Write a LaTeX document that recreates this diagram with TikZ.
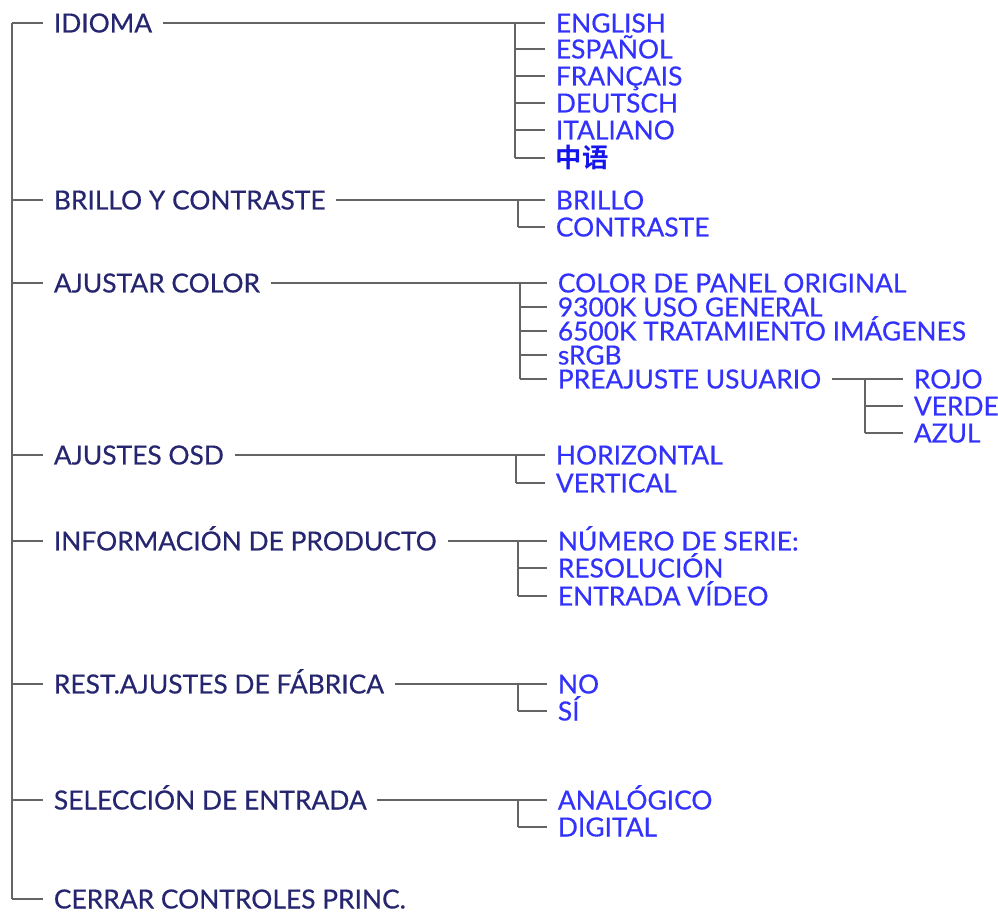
\documentclass[tikz,border=0pt]{standalone}
\usepackage{fontspec}
\setmainfont{Lato}
\newfontfamily\menufont{Lato}[FakeBold=0.5]
\newfontfamily\cjkfont{Noto Sans CJK SC Bold}
\usepackage{tikz}

\definecolor{menunavy}{RGB}{38,38,112}
\definecolor{itemblue}{RGB}{50,50,252}
\definecolor{zhblue}{RGB}{20,20,235}
\definecolor{linegray}{RGB}{100,100,100}

\tikzset{
  mainitem/.style={anchor=west, inner xsep=6pt, inner ysep=0pt, text height=10.8pt, text depth=0pt,
    text=menunavy, font=\menufont\fontsize{15}{16}\selectfont},
  subitem/.style={mainitem, text=itemblue},
  tree/.style={draw=linegray, line width=0.8pt}
}

\begin{document}
\begin{tikzpicture}[x=0.02cm, y=-0.02cm]
\useasboundingbox (0,0) rectangle (998,914);

% left column
\coordinate (top) at (12,23);
\node[mainitem] (idioma) at (43,23) {IDIOMA};
\node[mainitem] (brillo) at (43,200) {BRILLO Y CONTRASTE};
\node[mainitem] (color) at (43,283) {AJUSTAR COLOR};
\node[mainitem] (osd) at (43,455) {AJUSTES OSD};
\node[mainitem] (info) at (43,541) {INFORMACIÓN DE PRODUCTO};
\node[mainitem] (rest) at (43,684) {REST.AJUSTES DE FÁBRICA};
\node[mainitem] (entrada) at (43,800) {SELECCIÓN DE ENTRADA};
\node[mainitem] (cerrar) at (43,899) {CERRAR CONTROLES PRINC.};

\draw[tree] (top) -- (cerrar.west -| top);
\foreach \m in {idioma,brillo,color,osd,info,rest,entrada,cerrar}
  \draw[tree] (\m.west -| top) -- (\m.west);

% idioma
\coordinate (bidioma) at (515,23);
\node[subitem] (en) at (545,23) {ENGLISH};
\node[subitem] (es) at (545,49) {ESPAÑOL};
\node[subitem] (fr) at (545,76) {FRANÇAIS};
\node[subitem] (de) at (545,103) {DEUTSCH};
\node[subitem] (it) at (545,130) {ITALIANO};
\node[subitem, text=zhblue, font=\cjkfont\fontsize{15}{16}\selectfont] (zh) at (545,158) {中语};
\draw[tree] (idioma.east) -- (bidioma) -- (zh.west -| bidioma);
\foreach \n in {en,es,fr,de,it,zh}
  \draw[tree] (\n.west -| bidioma) -- (\n.west);

% brillo
\coordinate (bbrillo) at (518,200);
\node[subitem] (bri) at (545,200) {BRILLO};
\node[subitem] (con) at (545,227) {CONTRASTE};
\draw[tree] (brillo.east) -- (bbrillo) -- (con.west -| bbrillo);
\foreach \n in {bri,con}
  \draw[tree] (\n.west -| bbrillo) -- (\n.west);

% color
\coordinate (bcolor) at (520,283);
\node[subitem] (orig) at (547,283) {COLOR DE PANEL ORIGINAL};
\node[subitem] (k93) at (547,307) {9300K USO GENERAL};
\node[subitem] (k65) at (547,331) {6500K TRATAMIENTO IMÁGENES};
\node[subitem] (srgb) at (547,355) {sRGB};
\node[subitem] (user) at (547,379) {PREAJUSTE USUARIO};
\draw[tree] (color.east) -- (bcolor) -- (user.west -| bcolor);
\foreach \n in {orig,k93,k65,srgb,user}
  \draw[tree] (\n.west -| bcolor) -- (\n.west);

\coordinate (buser) at (865,379);
\node[subitem] (rojo) at (903,379) {ROJO};
\node[subitem] (verde) at (903,406) {VERDE};
\node[subitem] (azul) at (903,433) {AZUL};
\draw[tree] (user.east) -- (buser) -- (azul.west -| buser);
\foreach \n in {rojo,verde,azul}
  \draw[tree] (\n.west -| buser) -- (\n.west);

% osd
\coordinate (bosd) at (516,455);
\node[subitem] (hor) at (545,455) {HORIZONTAL};
\node[subitem] (ver) at (545,483) {VERTICAL};
\draw[tree] (osd.east) -- (bosd) -- (ver.west -| bosd);
\foreach \n in {hor,ver}
  \draw[tree] (\n.west -| bosd) -- (\n.west);

% info
\coordinate (binfo) at (518,541);
\node[subitem] (serie) at (547,541) {NÚMERO DE SERIE:};
\node[subitem] (reso) at (547,568) {RESOLUCIÓN};
\node[subitem] (video) at (547,596) {ENTRADA VÍDEO};
\draw[tree] (info.east) -- (binfo) -- (video.west -| binfo);
\foreach \n in {serie,reso,video}
  \draw[tree] (\n.west -| binfo) -- (\n.west);

% rest
\coordinate (brest) at (518,684);
\node[subitem] (no) at (547,684) {NO};
\node[subitem] (si) at (547,711) {SÍ};
\draw[tree] (rest.east) -- (brest) -- (si.west -| brest);
\foreach \n in {no,si}
  \draw[tree] (\n.west -| brest) -- (\n.west);

% entrada
\coordinate (bentrada) at (518,800);
\node[subitem] (ana) at (547,800) {ANALÓGICO};
\node[subitem] (dig) at (547,827) {DIGITAL};
\draw[tree] (entrada.east) -- (bentrada) -- (dig.west -| bentrada);
\foreach \n in {ana,dig}
  \draw[tree] (\n.west -| bentrada) -- (\n.west);

\end{tikzpicture}
\end{document}
